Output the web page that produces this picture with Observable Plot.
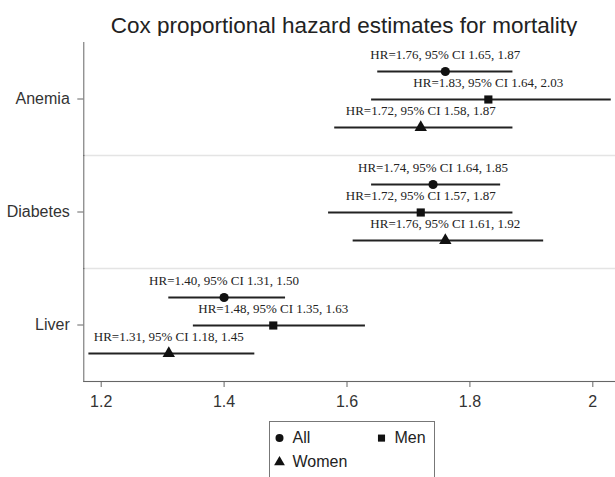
<!DOCTYPE html>
<html><head><meta charset="utf-8">
<script src="https://cdn.jsdelivr.net/npm/d3@7"></script>
<script src="https://cdn.jsdelivr.net/npm/@observablehq/plot@0.6"></script>
<style>
html,body{margin:0;padding:0;background:#fff;overflow:hidden;width:615px;height:477px;}
#title{position:absolute;left:0;top:15px;width:688px;text-align:center;font-family:"Liberation Sans",Arial,sans-serif;font-size:22.5px;line-height:22.5px;color:#222;white-space:nowrap;}
#chart{position:absolute;left:0;top:36px;}
#legend{position:absolute;left:269px;top:421px;width:164px;height:80px;border:1px solid #777;background:#fff;}
</style>
</head><body>
<div id="title">Cox proportional hazard estimates for mortality</div>
<div id="chart"></div>
<div id="legend"></div>
<script>
const categories = ["Anemia", "Diabetes", "Liver"];
const series = ["All", "Men", "Women"];
const symbols = ["circle", "square", "triangle"];
const hr     = [[1.76, 1.83, 1.72], [1.74, 1.72, 1.76], [1.40, 1.48, 1.31]];
const ciLow  = [[1.65, 1.64, 1.58], [1.64, 1.57, 1.61], [1.31, 1.35, 1.18]];
const ciHigh = [[1.87, 2.03, 1.87], [1.85, 1.87, 1.92], [1.50, 1.63, 1.45]];
const xTicks = [1.2, 1.4, 1.6, 1.8, 2];
const xTickLabels = ["1.2", "1.4", "1.6", "1.8", "2"];

const rows = [];
categories.forEach((c, i) => series.forEach((s, j) => rows.push({
  cat: c, ser: s, hr: hr[i][j], lo: ciLow[i][j], hi: ciHigh[i][j]
})));
const fmt = v => v.toFixed(2);

const chart = Plot.plot({
  width: 615, height: 385,
  marginTop: 5, marginBottom: 40, marginLeft: 83.3, marginRight: 0,
  style: {fontFamily: "Liberation Sans, Arial, sans-serif", fontSize: "16px", color: "#333", background: "#fff", overflow: "visible"},
  x: {domain: [1.1717, 2.0369]},
  y: {domain: series, padding: 1, axis: null},
  fy: {domain: categories, padding: 0},
  symbol: {domain: series, range: symbols},
  marks: [
    Plot.frame({anchor: "bottom", stroke: "#e4e4e4", strokeWidth: 1.5}),
    Plot.frame({anchor: "bottom", stroke: "#666", strokeWidth: 1, facetAnchor: "bottom"}),
    Plot.frame({anchor: "left", stroke: "#666", strokeWidth: 1}),
    Plot.axisX({ticks: xTicks, tickFormat: d => xTickLabels[xTicks.indexOf(d)], tickSize: 6, tickPadding: 8, stroke: "#666", fill: "#333", fontSize: 16, label: null}),
    Plot.axisFy({anchor: "left", tickSize: 6, tickPadding: 8, stroke: "#666", fill: "#333", fontSize: 16, label: null}),
    Plot.ruleY(rows, {y: "ser", fy: "cat", x1: "lo", x2: "hi", stroke: "#222", strokeWidth: 2}),
    Plot.dot(rows, {x: "hr", y: "ser", fy: "cat", symbol: "ser", r: 4.6, fill: "#111", stroke: "none"}),
    Plot.text(rows, {x: "hr", y: "ser", fy: "cat",
      text: d => `HR=${fmt(d.hr)}, 95% CI ${fmt(d.lo)}, ${fmt(d.hi)}`,
      dy: -16.6, fontFamily: "Liberation Serif, Times New Roman, serif", fontSize: 13, fill: "#222"})
  ]
});
document.getElementById("chart").append(chart);

const legend = Plot.plot({
  width: 164, height: 68, margin: 0,
  style: {fontFamily: "Liberation Sans, Arial, sans-serif", fontSize: "16px", background: "transparent"},
  x: {domain: [0, 1], range: [9, 111], axis: null},
  y: {domain: [0, 1], range: [15.6, 39.6], axis: null},
  symbol: {domain: series, range: symbols},
  marks: [
    Plot.dot(series, {x: (d, i) => i % 2, y: (d, i) => Math.floor(i / 2), symbol: d => d, r: 4, fill: "#111", stroke: "none"}),
    Plot.text(series, {x: (d, i) => i % 2, y: (d, i) => Math.floor(i / 2), text: d => d, dx: 13, textAnchor: "start", fontSize: 16, fill: "#222"})
  ]
});
document.getElementById("legend").append(legend);
</script>
</body></html>
